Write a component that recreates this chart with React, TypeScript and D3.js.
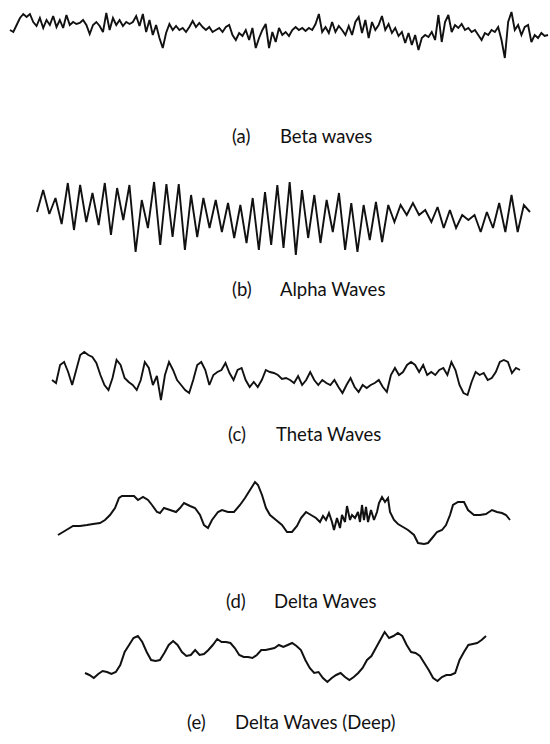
import React from "react";
import * as d3 from "d3";

// ---- Data (amplitudes, arbitrary µV-like units, positive = up) ----
const betaValues = [
  2, 0, 7, 14, 18, 15, 18, 10, 6, 14, 4, 12, 7, 16, 5, 12, 4, 17, 7, 10,
  8, 9, 12, 7, -2, 7, 10, 6, 0, 19, 2, 14, 7, 12, 6, 10, 8, 10, 16, 6,
  18, 0, 12, -3, 7, -6, -16, -1, 8, 2, 6, 2, 4, 0, 5, 11, 5, 9, 5, 2,
  5, 0, 2, 4, 0, 5, 7, -3, -8, -1, -4, 2, -8, 4, -16, -6, 2, 8, -16, 0,
  -10, 4, -3, 0,
  -4, 2, 5, 2, 4, 1, 4, 2, 8, 18, 0, 5, -1, 10, 0, 6, 2, -3, 6, -3,
  10, 15, -1, 12, -6, 10, 2, 7, 16, 2, 8, -1, 4, -4, 0, -11, -1, -13, -3, -18,
  -6, -3, -5, 0, -8, 17, -10, 10, 17, 0, 7, 4, 8, 2, 4, 0, 2, -3, -8, -1,
  -3, 2, 0, 5, -8, -26, 10, 20, 2, 7, -3, 5, 7, -10, -3, -6, -1, -4, -3,
];

const alphaValues = [
  8, 30, 6, 22, -4, 37, -10, 35, -2, 27, -5, 37, -15, 32, 0, 35, -32, 20, -8, 38,
  -25, 36, -17, 36, -30, 25, -17, 22, -8, 20, -12, 17, -18, 15, -23, 22, -30, 28, -25, 35,
  -28, 38, -35, 30, -18, 25, -23, 20, -12, 27, -30, 17, -32, 15, -20, 18, -22, 15, -2, 15,
  5, 17, 5, 10, -2, 13, -8, 10, -8, 5, 0, 5, -12, 8, -8, 17, -12, 25, -12, 15, 8,
];

const thetaValues = [
  -5, -8, 10, 13, 3, -10, 5, 20, 23, 20, 18, 12, 0, -10, -15, -3, 15, 10, -3, -7,
  -10, -15, -5, 13, 7, -10, -1, -25, 0, 13, 5, -5, -10, -15, -18, -5, 10, 13, 5, -10,
  0, 3, 5, 12, 2, -5, 5, 7, -5, -12, -7, -12, -5, 5, 3, 2, 0, -4, -3,
  -5, -8, -1, -10, -5, 3, -5, -10, -5, -8, -10, -5, -12, -18, -10, -3, -12, -17, -10, -13,
  -10, -8, -5, -12, -17, 0, 7, 0, 3, 10, 13, 10, 3, 10, 0, 3, 0, 5, 7, 0,
  13, 5, -10, -18, -20, -7, 3, 0, 2, -5, -3, 3, 13, 15, 13, 2, 7, 5,
];

const deltaTimes = [
  0, 5, 10, 15, 22, 29, 35, 42, 47, 52, 57, 61, 64, 70, 76, 80, 85, 90, 94, 99,
  102, 106, 112, 118, 122, 126, 132, 137, 142, 146, 150, 154, 160, 164, 170, 176, 182, 187, 192, 197,
  200, 204, 208, 212, 218, 224, 229,
  234, 239, 243, 248, 253, 258, 262, 265, 268, 271, 274, 276, 279, 282, 284, 287, 289, 292, 294, 297,
  300, 302, 304, 306, 308, 310, 313, 316, 319, 321, 324, 327, 330, 332, 336, 340, 345, 350, 356, 360,
  366, 370, 375, 379, 384, 388, 392, 395, 400, 406, 410, 416, 422, 428, 434, 439, 444, 448, 452,
];
const deltaValues = [
  -20, -17, -14, -11, -11, -10, -9, -8, -5, 0, 7, 17, 19, 19, 19, 15, 18, 15, 10, 3,
  2, 7, 5, 3, 7, 12, 9, 7, 0, -10, -13, -5, 3, 5, 3, 3, 10, 17, 25, 33,
  30, 20, 7, 0, -5, -10, -17,
  -17, -11, -3, 3, 0, -3, -7, -1, -5, 2, -7, -15, -3, -13, 0, -7, 9, -5, 0, -3,
  3, -7, 10, -5, 8, -7, 5, -5, 3, 12, 18, 13, 17, 3, -5, -9, -12, -15, -20, -28,
  -29, -28, -22, -17, -15, -10, 0, 10, 13, 13, 5, 0, 0, 1, 5, 3, 2, 0, -5,
];

const deepValues = [
  -15, -17, -20, -16, -13, -14, -16, -14, -7, 6, 13, 20, 22, 16, 6, -2, -3, -2, 5, 13,
  17, 13, 6, 2, 3, 8, 3, 4, 8, 13, 19, 16, 16, 15, 10, 3, 1, 1, 0, 3,
  8, 8, 9, 10, 13,
  11, 13, 15, 12, 8, -2, -10, -15, -14, -20, -24, -20, -17, -15, -19, -22, -19, -15, -10, -2,
  2, 10, 18, 26, 20, 22, 25, 22, 13, 6, 5, 2, -5, -12, -20, -23, -19, -17, -17, -15,
  -2, 6, 13, 14, 15, 18, 22,
];

const letters = ["(a)", "(b)", "(c)", "(d)", "(e)"];
const names = ["Beta waves", "Alpha Waves", "Theta Waves", "Delta Waves", "Delta Waves (Deep)"];

// ---- Layout ----
const W = 550;
const H = 744;

type Panel = {
  values: number[];
  times?: number[];
  x0: number;
  x1: number;
  center: number;
  sw: number;
  labelX: number;
  labelY: number;
};

const panels: Panel[] = [
  { values: betaValues, x0: 10, x1: 548, center: 32, sw: 1.9, labelX: 232, labelY: 143 },
  { values: alphaValues, x0: 37, x1: 530, center: 220, sw: 1.9, labelX: 232, labelY: 296 },
  { values: thetaValues, x0: 52, x1: 520, center: 375, sw: 1.9, labelX: 228, labelY: 441 },
  { values: deltaValues, times: deltaTimes, x0: 58, x1: 510, center: 515, sw: 2, labelX: 226, labelY: 608 },
  { values: deepValues, x0: 85, x1: 486, center: 658, sw: 2, labelX: 187, labelY: 729 },
];

function Wave({ p }: { p: Panel }) {
  const ts = p.times ?? p.values.map((_, i) => i);
  const x = d3.scaleLinear().domain([ts[0], ts[ts.length - 1]]).range([p.x0, p.x1]);
  const y = d3.scaleLinear().domain([-40, 40]).range([p.center + 40, p.center - 40]);
  const line = d3
    .line<number>()
    .x((_, i) => x(ts[i]))
    .y((v) => y(v))
    .curve(d3.curveLinear);
  return (
    <path
      d={line(p.values) ?? ""}
      fill="none"
      stroke="#111"
      strokeWidth={p.sw}
      strokeLinejoin="miter"
      strokeMiterlimit={3}
    />
  );
}

export default function App() {
  return (
    <svg
      width={W}
      height={H}
      viewBox={`0 0 ${W} ${H}`}
      style={{ position: "absolute", left: 0, top: 0, background: "#fff" }}
    >
      <rect x={0} y={0} width={W} height={H} fill="#fff" />
      {panels.map((p, i) => (
        <g key={i}>
          <Wave p={p} />
          <text
            x={p.labelX}
            y={p.labelY}
            fontFamily="Lato, 'Open Sans', sans-serif"
            fontSize={18.5}
            fill="#111"
          >
            {letters[i]}
          </text>
          <text
            x={p.labelX + 48}
            y={p.labelY}
            fontFamily="Lato, 'Open Sans', sans-serif"
            fontSize={18.5}
            fill="#111"
          >
            {names[i]}
          </text>
        </g>
      ))}
    </svg>
  );
}
